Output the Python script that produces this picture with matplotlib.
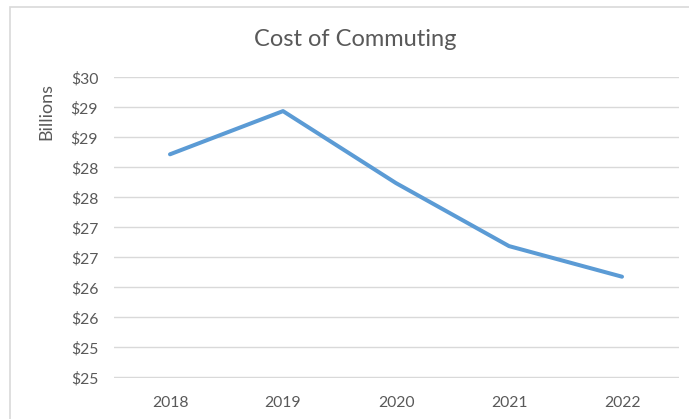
import matplotlib.pyplot as plt
import numpy as np
from matplotlib.patches import Rectangle

years = ['2018', '2019', '2020', '2021', '2022']
cost = [28.72, 29.44, 28.24, 27.19, 26.68]   # billions

ytick_vals = [25.0, 25.5, 26.0, 26.5, 27.0, 27.5, 28.0, 28.5, 29.0, 29.5, 30.0]
ytick_lbls = ['$25', '$25', '$26', '$26', '$27', '$27', '$28', '$28', '$29', '$29', '$30']

plt.rcParams['font.family'] = ['Lato', 'DejaVu Sans']
gris = '#595959'

fig = plt.figure(figsize=(6.89, 4.19), dpi=100)
W, H = 689, 419

# marco del grafico (recortado a la derecha y abajo)
fig.patches.append(Rectangle((10 / W, -0.05), 1.1, (H - 7) / H + 0.05,
                             transform=fig.transFigure, fill=False,
                             edgecolor='#D9D9D9', linewidth=1.2))

ax = fig.add_axes([113.5 / W, (H - 377.5) / H, 565 / W, 300 / H])
x = np.arange(len(years))
ax.plot(x, cost, color='#5B9BD5', linewidth=2.9, solid_capstyle='round')

ax.set_xlim(-0.5, len(years) - 0.5)
ax.set_ylim(25, 30)
ax.set_xticks(x)
ax.set_xticklabels(years)
ax.set_yticks(ytick_vals)
ax.set_yticklabels(ytick_lbls)
ax.tick_params(length=0, colors=gris, labelsize=11.3)
ax.tick_params(axis='x', pad=13)
ax.tick_params(axis='y', pad=11)

ax.grid(axis='y', color='#D9D9D9', linewidth=1.0)
ax.set_axisbelow(True)
for s in ax.spines.values():
    s.set_visible(False)

fig.text(355 / W, 1 - 40 / H, 'Cost of Commuting', ha='center', va='center',
         fontsize=17, color=gris)
fig.text(46 / W, 1 - 111 / H, 'Billions', ha='center', va='center',
         rotation=90, fontsize=13, color=gris)

fig.savefig('out.png', dpi=100)
